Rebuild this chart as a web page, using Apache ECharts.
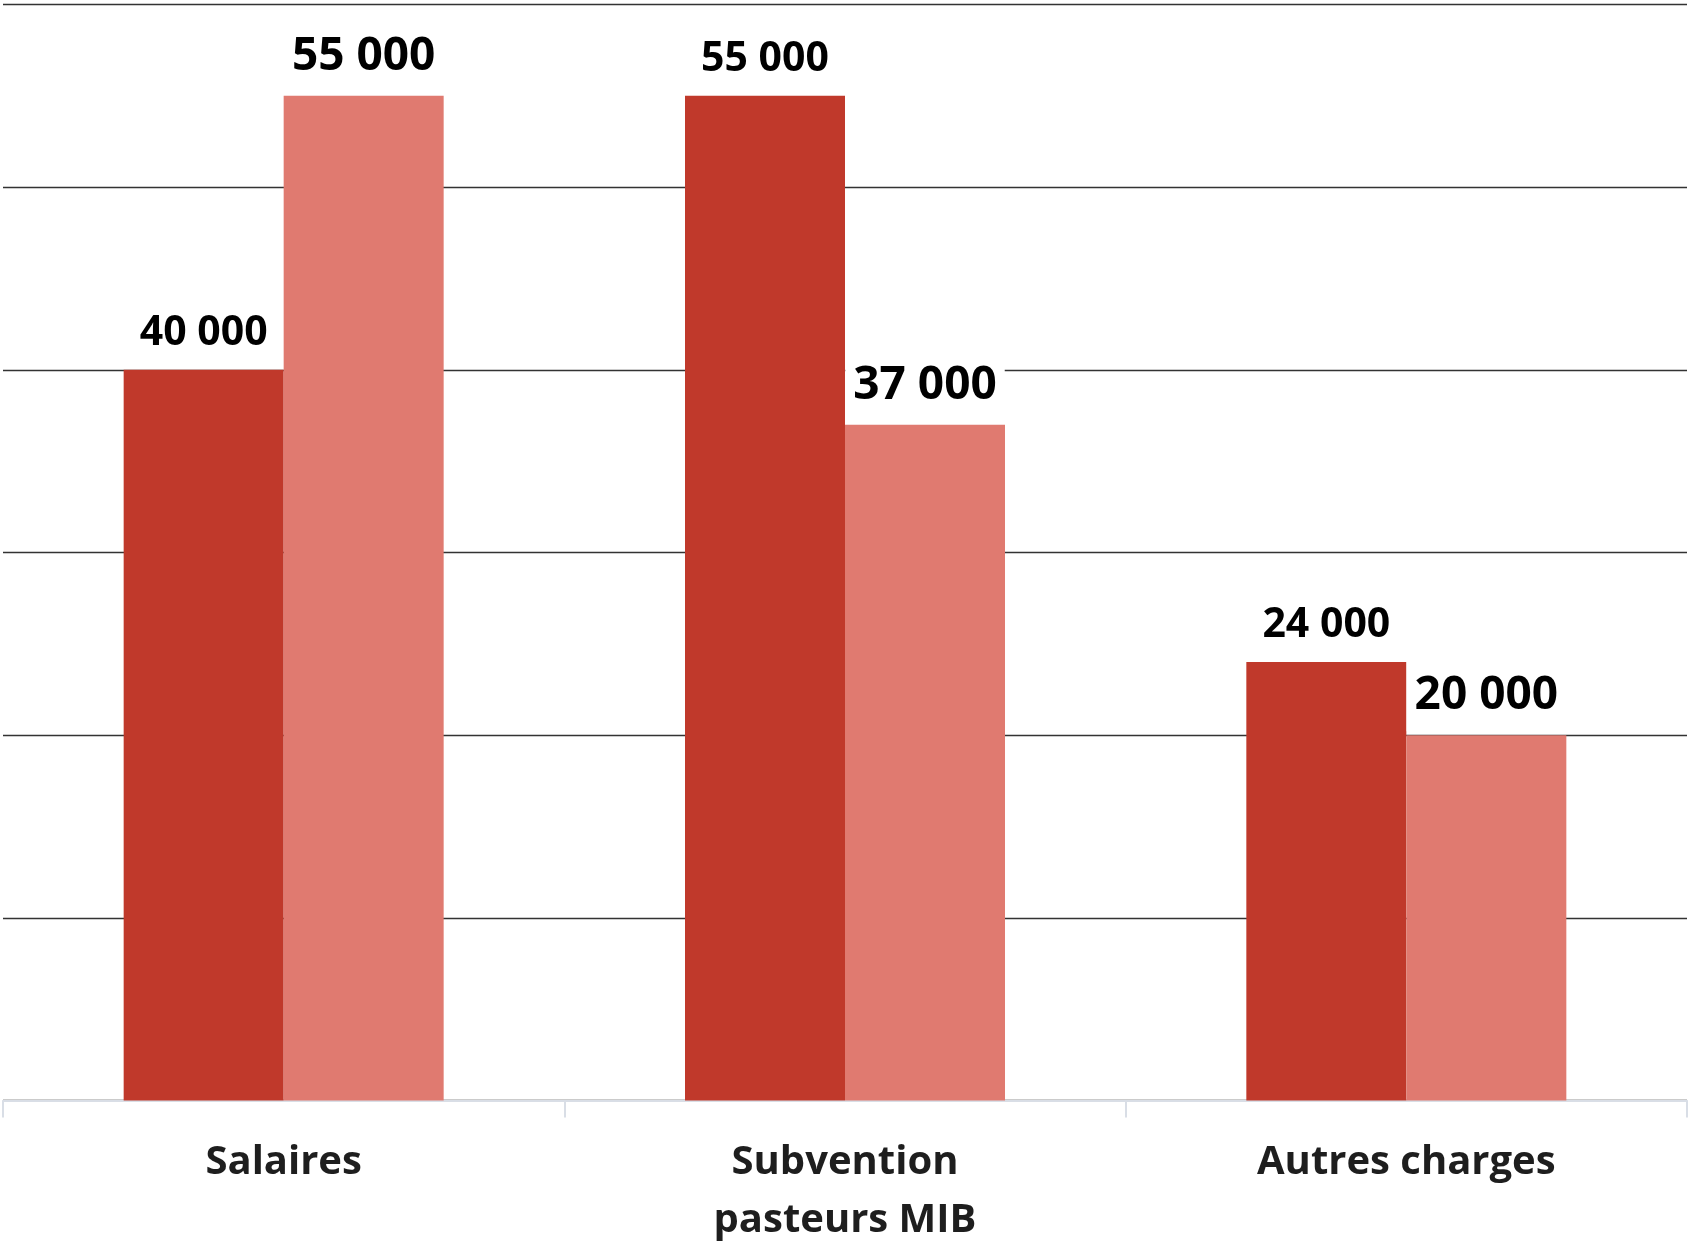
<!DOCTYPE html>
<html>
<head>
<meta charset="utf-8">
<script src="https://cdn.jsdelivr.net/npm/echarts@6/dist/echarts.min.js"></script>
<style>
html,body{margin:0;padding:0;background:#fff;}
#chart{width:1690px;height:1247px;}
</style>
</head>
<body>
<div id="chart"></div>
<script>
var categories = ['Salaires', 'Subvention\npasteurs MIB', 'Autres charges'];
var seriesA = [40000, 55000, 24000];
var seriesB = [55000, 37000, 20000];
var yTicks = [0, 10000, 20000, 30000, 40000, 50000, 60000];

function fmt(v) {
  return String(v).replace(/\B(?=(\d{3})+(?!\d))/g, ' ');
}

var chart = echarts.init(document.getElementById('chart'));
chart.setOption({
  animation: false,
  backgroundColor: '#ffffff',
  grid: { left: 3, right: 3, top: 4.5, bottom: 146.5, containLabel: false, outerBoundsMode: 'none' },
  xAxis: {
    type: 'category',
    data: categories,
    axisLine: { show: true, lineStyle: { color: '#d9dee6', width: 2 } },
    axisTick: { show: true, length: 17, lineStyle: { color: '#d9dee6', width: 2 } },
    axisLabel: {
      fontFamily: 'Open Sans',
      fontWeight: 'bold',
      fontSize: 40,
      lineHeight: 58,
      color: '#1e1e1e',
      margin: 33
    },
    splitLine: { show: false }
  },
  yAxis: {
    type: 'value',
    min: yTicks[0],
    max: yTicks[yTicks.length - 1],
    interval: yTicks[1] - yTicks[0],
    axisLine: { show: false },
    axisTick: { show: false },
    axisLabel: { show: false },
    splitLine: { show: true, lineStyle: { color: '#333333', width: 1.4 } }
  },
  series: [
    {
      type: 'bar',
      data: seriesA,
      barWidth: 160,
      barGap: '0%',
      itemStyle: { color: '#c0392b' },
      label: {
        show: true,
        position: 'top',
        distance: 4,
        formatter: function (p) { return fmt(p.value); },
        fontFamily: 'Open Sans',
        fontWeight: 'bold',
        fontSize: 41,
        lineHeight: 50,
        color: '#000',
        backgroundColor: '#ffffff',
        padding: [8, 6]
      }
    },
    {
      type: 'bar',
      data: seriesB,
      barWidth: 160,
      barGap: '0%',
      itemStyle: { color: '#e07a70' },
      label: {
        show: true,
        position: 'top',
        distance: 4,
        formatter: function (p) { return fmt(p.value); },
        fontFamily: 'Open Sans',
        fontWeight: 'bold',
        fontSize: 46,
        lineHeight: 54,
        color: '#000',
        backgroundColor: '#ffffff',
        padding: [8, 8]
      }
    }
  ]
});
</script>
</body>
</html>
